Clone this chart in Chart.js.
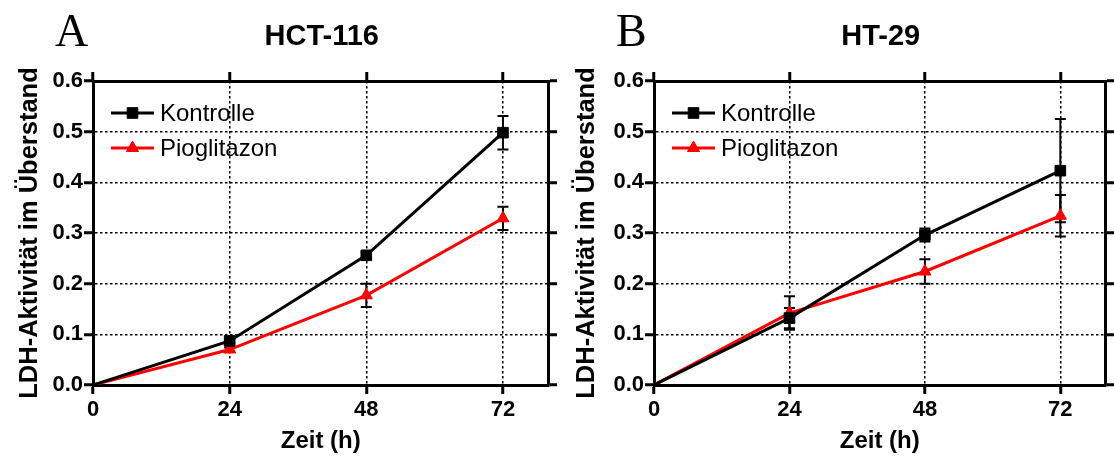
<!DOCTYPE html>
<html>
<head>
<meta charset="utf-8">
<script src="https://cdn.jsdelivr.net/npm/chart.js@4.4.1/dist/chart.umd.min.js"></script>
<style>
html, body { margin: 0; padding: 0; background: #ffffff; }
#wrap { position: relative; width: 1114px; height: 457px; overflow: hidden; background: #ffffff; }
#wrap canvas { position: absolute; top: 0; }
</style>
</head>
<body>
<div id="wrap">
  <canvas id="chartA" width="557" height="457" style="left:0px"></canvas>
  <canvas id="chartB" width="557" height="457" style="left:557px"></canvas>
</div>
<script>
// ---------- data ----------
const timePoints = [0, 24, 48, 72];
const xTickValues = [0, 24, 48, 72];
const yTickValues = [0, 0.1, 0.2, 0.3, 0.4, 0.5, 0.6];
const seriesLabels = ['Kontrolle', 'Pioglitazon'];
const panelTitles = ['HCT-116', 'HT-29'];
const panelLetters = ['A', 'B'];
const xAxisTitle = 'Zeit (h)';
const yAxisTitle = 'LDH-Aktivität im Überstand';

// HCT-116
const hctKontrolle      = [0, 0.087, 0.256, 0.498];
const hctKontrolleErr   = [0, 0.004, 0.006, 0.033];
const hctPioglitazon    = [0, 0.070, 0.177, 0.329];
const hctPioglitazonErr = [0, 0.004, 0.023, 0.023];

// HT-29
const htKontrolle       = [0, 0.132, 0.296, 0.423];
const htKontrolleErr    = [0, 0.020, 0.013, 0.102];
const htPioglitazon     = [0, 0.142, 0.224, 0.334];
const htPioglitazonErr  = [0, 0.033, 0.024, 0.041];

// ---------- styling ----------
Chart.defaults.font.family = '"Liberation Sans", Arial, Helvetica, sans-serif';
Chart.defaults.color = '#000000';

const seriesStyles = [
  { color: '#000000', pointStyle: 'rect', radius: 7.5 },
  { color: '#ff0000', pointStyle: 'triangle', radius: 7 }
];

function drawMarker(ctx, style, radius, color, x, y) {
  ctx.save();
  ctx.fillStyle = color;
  ctx.strokeStyle = color;
  ctx.lineWidth = 1;
  if (Chart.helpers && Chart.helpers.drawPoint) {
    Chart.helpers.drawPoint(ctx, { pointStyle: style, radius: radius, borderWidth: 1, rotation: 0 }, x, y);
  }
  ctx.restore();
}

const errorBarPlugin = {
  id: 'errorBars',
  beforeDatasetsDraw(chart) {
    const ctx = chart.ctx;
    const xs = chart.scales.x, ys = chart.scales.y;
    ctx.save();
    ctx.strokeStyle = '#000000';
    ctx.lineWidth = 2;
    chart.data.datasets.forEach((ds) => {
      (ds.errors || []).forEach((err, i) => {
        if (!err) return;
        const pt = ds.data[i];
        const px = xs.getPixelForValue(pt.x);
        const yt = ys.getPixelForValue(pt.y + err);
        const yb = ys.getPixelForValue(pt.y - err);
        const cap = 5.5;
        ctx.beginPath();
        ctx.moveTo(px, yt); ctx.lineTo(px, yb);
        ctx.moveTo(px - cap, yt); ctx.lineTo(px + cap, yt);
        ctx.moveTo(px - cap, yb); ctx.lineTo(px + cap, yb);
        ctx.stroke();
      });
    });
    ctx.restore();
  }
};

const decorPlugin = {
  id: 'panelDecor',
  afterDraw(chart, args, opts) {
    const ctx = chart.ctx;
    const ca = chart.chartArea;
    ctx.save();
    // panel letter
    ctx.fillStyle = '#000000';
    ctx.font = '46px "Liberation Serif", "Times New Roman", serif';
    ctx.textAlign = 'left';
    ctx.textBaseline = 'alphabetic';
    ctx.fillText(opts.letter, ca.left - 38, 46);
    // panel title
    ctx.font = 'bold 29px "Liberation Sans", Arial, sans-serif';
    ctx.textAlign = 'center';
    ctx.fillText(opts.title, (ca.left + ca.right) / 2 + 1, 45);
    // legend
    chart.data.datasets.forEach((ds, i) => {
      const y = ca.top + 32 + i * 35;
      const x0 = ca.left + 18, x1 = ca.left + 61;
      ctx.strokeStyle = ds.borderColor;
      ctx.lineWidth = 3;
      ctx.beginPath();
      ctx.moveTo(x0, y); ctx.lineTo(x1, y);
      ctx.stroke();
      drawMarker(ctx, ds.pointStyle, ds.legendRadius, ds.borderColor, (x0 + x1) / 2, y);
      ctx.fillStyle = '#000000';
      ctx.font = '24px "Liberation Sans", Arial, sans-serif';
      ctx.textAlign = 'left';
      ctx.textBaseline = 'middle';
      ctx.fillText(ds.label, ca.left + 67, y + 1);
    });
    ctx.restore();
  }
};

function toPoints(vals) {
  return timePoints.map((t, i) => ({ x: t, y: vals[i] }));
}

function makeDataset(label, vals, errs, style) {
  return {
    label: label,
    data: toPoints(vals),
    errors: errs,
    borderColor: style.color,
    backgroundColor: style.color,
    borderWidth: 3,
    pointStyle: style.pointStyle,
    legendRadius: style.radius,
    pointRadius: timePoints.map(t => (t === 0 ? 0 : style.radius)),
    pointBorderWidth: 1,
    pointBackgroundColor: style.color,
    pointBorderColor: style.color,
    tension: 0,
    fill: false
  };
}

const gridBase = {
  color: '#000000',
  lineWidth: 1.5,
  tickLength: 9,
  tickWidth: 3,
  tickColor: '#000000'
};

function makePanel(canvasId, idx, kon, konErr, pio, pioErr, leftWidth, rightWidth) {
  const setX = s => { s.ticks = xTickValues.map(v => ({ value: v })); };
  const setY = s => { s.ticks = yTickValues.map(v => ({ value: v })); };
  return new Chart(document.getElementById(canvasId), {
    type: 'line',
    data: {
      datasets: [
        makeDataset(seriesLabels[0], kon, konErr, seriesStyles[0]),
        makeDataset(seriesLabels[1], pio, pioErr, seriesStyles[1])
      ]
    },
    options: {
      responsive: false,
      animation: false,
      devicePixelRatio: 1,
      layout: { padding: 0 },
      plugins: {
        legend: { display: false },
        title: { display: false },
        tooltip: { enabled: false },
        panelDecor: { title: panelTitles[idx], letter: panelLetters[idx] }
      },
      scales: {
        x: {
          type: 'linear', position: 'bottom', min: 0, max: 80,
          afterBuildTicks: setX,
          afterFit: s => { s.height = 72; },
          grid: Object.assign({}, gridBase, { drawOnChartArea: true }),
          border: { display: true, color: '#000000', width: 3, dash: [2.5, 2.5] },
          ticks: { color: '#000000', font: { size: 22, weight: 'bold' }, padding: 3, maxRotation: 0 },
          title: { display: true, text: xAxisTitle, color: '#000000', font: { size: 24, weight: 'bold' }, padding: { top: 0, bottom: 1 } }
        },
        x2: {
          type: 'linear', position: 'top', min: 0, max: 80,
          afterBuildTicks: setX,
          afterFit: s => { s.height = 81; },
          grid: Object.assign({}, gridBase, { drawOnChartArea: false }),
          border: { display: true, color: '#000000', width: 3 },
          ticks: { display: false }
        },
        y: {
          type: 'linear', position: 'left', min: 0, max: 0.6,
          afterBuildTicks: setY,
          afterFit: s => { s.width = leftWidth; },
          grid: Object.assign({}, gridBase, { drawOnChartArea: true }),
          border: { display: true, color: '#000000', width: 3, dash: [2.5, 2.5] },
          ticks: { color: '#000000', font: { size: 22, weight: 'bold' }, padding: 1, callback: v => Number(v).toFixed(1) },
          title: { display: true, text: yAxisTitle, color: '#000000', font: { size: 25.5, weight: 'bold' }, padding: { top: 15, bottom: 0 } }
        },
        y2: {
          type: 'linear', position: 'right', min: 0, max: 0.6,
          afterBuildTicks: setY,
          afterFit: s => { s.width = rightWidth; },
          grid: Object.assign({}, gridBase, { drawOnChartArea: false }),
          border: { display: true, color: '#000000', width: 3 },
          ticks: { display: false }
        }
      }
    },
    plugins: [errorBarPlugin, decorPlugin]
  });
}

makePanel('chartA', 0, hctKontrolle, hctKontrolleErr, hctPioglitazon, hctPioglitazonErr, 93, 8);
makePanel('chartB', 1, htKontrolle, htKontrolleErr, htPioglitazon, htPioglitazonErr, 97, 3);
</script>
</body>
</html>
